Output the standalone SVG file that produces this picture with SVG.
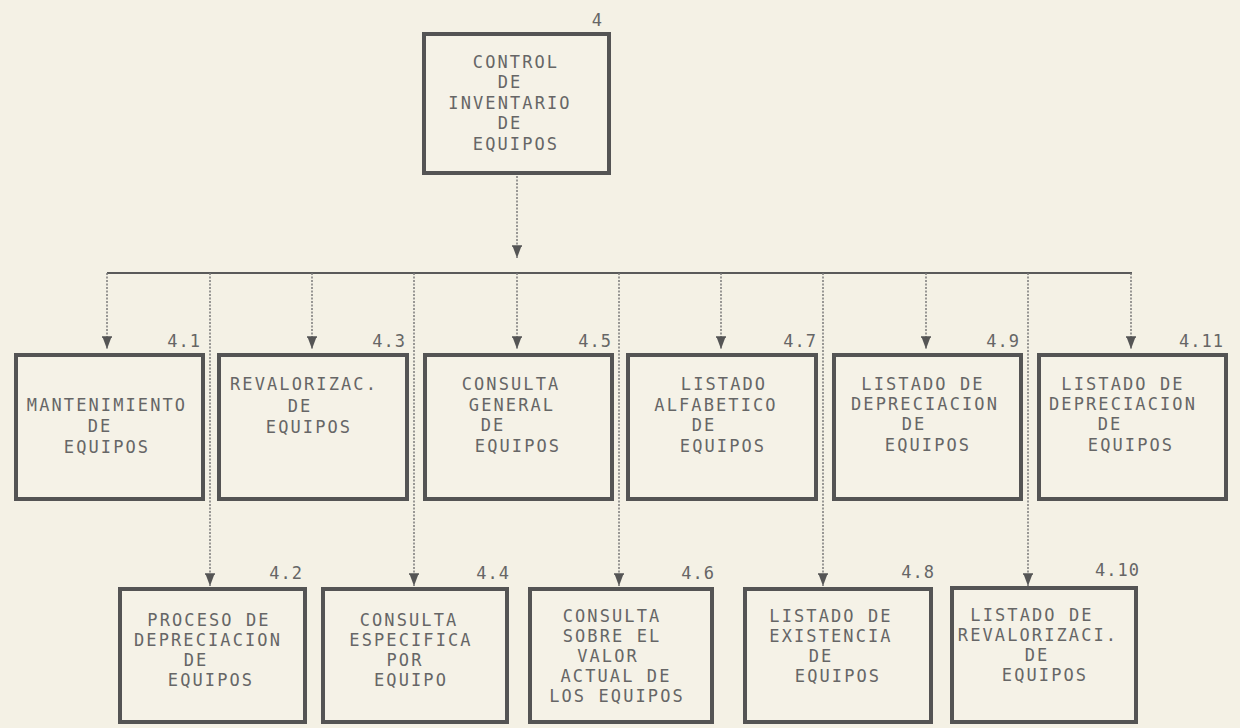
<svg xmlns="http://www.w3.org/2000/svg" width="1240" height="728" viewBox="0 0 1240 728">
<style>
.bg{fill:#f4f1e5}
.box{fill:#f5f2e7;stroke:#545454;stroke-width:4}
.t{font-family:"DejaVu Sans Mono","Liberation Mono",monospace;font-size:17px;letter-spacing:2.1px;fill:#666;text-anchor:middle}
.n{font-family:"DejaVu Sans Mono","Liberation Mono",monospace;font-size:17px;letter-spacing:1px;fill:#666;text-anchor:end}
.drop{stroke:#7a7a7a;stroke-width:1.5;stroke-dasharray:2 1.5;fill:none}
.bus{stroke:#5a5a5a;stroke-width:2;fill:none}
</style>
<defs>
<marker id="arr" markerUnits="userSpaceOnUse" markerWidth="14" markerHeight="12" viewBox="0 0 14 12" refX="13" refY="6" orient="auto">
<path d="M1,1.5 L13,6 L1,10.5 Z" fill="#555"/>
<path d="M1,1 L1,11" stroke="#555" stroke-width="1.5"/>
</marker>
</defs>
<rect class="bg" x="0" y="0" width="1240" height="728"/>

<g id="connectors">
<line class="drop" x1="517" y1="176" x2="517" y2="258" marker-end="url(#arr)"/>
<line class="bus" x1="107" y1="273" x2="1132" y2="273"/>
<line class="drop" x1="107" y1="273" x2="107" y2="349" marker-end="url(#arr)"/>
<line class="drop" x1="312" y1="273" x2="312" y2="349" marker-end="url(#arr)"/>
<line class="drop" x1="517" y1="273" x2="517" y2="349" marker-end="url(#arr)"/>
<line class="drop" x1="721" y1="273" x2="721" y2="349" marker-end="url(#arr)"/>
<line class="drop" x1="926" y1="273" x2="926" y2="349" marker-end="url(#arr)"/>
<line class="drop" x1="1131" y1="273" x2="1131" y2="349" marker-end="url(#arr)"/>
<line class="drop" x1="210" y1="273" x2="210" y2="586" marker-end="url(#arr)"/>
<line class="drop" x1="414" y1="273" x2="414" y2="586" marker-end="url(#arr)"/>
<line class="drop" x1="619" y1="273" x2="619" y2="586" marker-end="url(#arr)"/>
<line class="drop" x1="823" y1="273" x2="823" y2="586" marker-end="url(#arr)"/>
<line class="drop" x1="1028" y1="273" x2="1028" y2="586" marker-end="url(#arr)"/>
</g>

<g id="n4">
<rect class="box" x="424" y="34" width="185" height="139"/>
<text class="n" x="603" y="26">4</text>
<text class="t" x="516" y="68">CONTROL</text>
<text class="t" x="510" y="88">DE</text>
<text class="t" x="510" y="109">INVENTARIO</text>
<text class="t" x="510" y="129">DE</text>
<text class="t" x="516" y="150">EQUIPOS</text>
</g>

<g id="n4_1">
<rect class="box" x="16" y="355" width="187" height="144"/>
<text class="n" x="201" y="347">4.1</text>
<text class="t" x="107" y="411">MANTENIMIENTO</text>
<text class="t" x="100" y="432">DE</text>
<text class="t" x="107" y="453">EQUIPOS</text>
</g>

<g id="n4_3">
<rect class="box" x="219" y="355" width="188" height="144"/>
<text class="n" x="406" y="347">4.3</text>
<text class="t" x="304" y="390">REVALORIZAC.</text>
<text class="t" x="300" y="412">DE</text>
<text class="t" x="309" y="433">EQUIPOS</text>
</g>

<g id="n4_5">
<rect class="box" x="425" y="355" width="187" height="144"/>
<text class="n" x="612" y="347">4.5</text>
<text class="t" x="511" y="390">CONSULTA</text>
<text class="t" x="512" y="411">GENERAL</text>
<text class="t" x="493" y="431">DE</text>
<text class="t" x="518" y="452">EQUIPOS</text>
</g>

<g id="n4_7">
<rect class="box" x="628" y="355" width="188" height="144"/>
<text class="n" x="817" y="347">4.7</text>
<text class="t" x="724" y="390">LISTADO</text>
<text class="t" x="716" y="411">ALFABETICO</text>
<text class="t" x="704" y="431">DE</text>
<text class="t" x="723" y="452">EQUIPOS</text>
</g>

<g id="n4_9">
<rect class="box" x="834" y="355" width="187" height="144"/>
<text class="n" x="1020" y="347">4.9</text>
<text class="t" x="923" y="390">LISTADO DE</text>
<text class="t" x="925" y="410">DEPRECIACION</text>
<text class="t" x="914" y="430">DE</text>
<text class="t" x="928" y="451">EQUIPOS</text>
</g>

<g id="n4_11">
<rect class="box" x="1039" y="355" width="187" height="144"/>
<text class="n" x="1224" y="347">4.11</text>
<text class="t" x="1123" y="390">LISTADO DE</text>
<text class="t" x="1123" y="410">DEPRECIACION</text>
<text class="t" x="1110" y="430">DE</text>
<text class="t" x="1131" y="451">EQUIPOS</text>
</g>

<g id="n4_2">
<rect class="box" x="120" y="589" width="185" height="133"/>
<text class="n" x="303" y="579">4.2</text>
<text class="t" x="209" y="626">PROCESO DE</text>
<text class="t" x="208" y="646">DEPRECIACION</text>
<text class="t" x="196" y="666">DE</text>
<text class="t" x="211" y="686">EQUIPOS</text>
</g>

<g id="n4_4">
<rect class="box" x="323" y="589" width="184" height="133"/>
<text class="n" x="510" y="579">4.4</text>
<text class="t" x="409" y="626">CONSULTA</text>
<text class="t" x="411" y="646">ESPECIFICA</text>
<text class="t" x="405" y="666">POR</text>
<text class="t" x="411" y="686">EQUIPO</text>
</g>

<g id="n4_6">
<rect class="box" x="530" y="589" width="182" height="133"/>
<text class="n" x="715" y="579">4.6</text>
<text class="t" x="612" y="622">CONSULTA</text>
<text class="t" x="612" y="642">SOBRE EL</text>
<text class="t" x="608" y="662">VALOR</text>
<text class="t" x="616" y="682">ACTUAL DE</text>
<text class="t" x="617" y="702">LOS EQUIPOS</text>
</g>

<g id="n4_8">
<rect class="box" x="745" y="589" width="186" height="133"/>
<text class="n" x="935" y="578">4.8</text>
<text class="t" x="831" y="622">LISTADO DE</text>
<text class="t" x="831" y="642">EXISTENCIA</text>
<text class="t" x="821" y="662">DE</text>
<text class="t" x="838" y="682">EQUIPOS</text>
</g>

<g id="n4_10">
<rect class="box" x="952" y="588" width="184" height="134"/>
<text class="n" x="1140" y="576">4.10</text>
<text class="t" x="1032" y="621">LISTADO DE</text>
<text class="t" x="1038" y="641">REVALORIZACI.</text>
<text class="t" x="1037" y="661">DE</text>
<text class="t" x="1045" y="681">EQUIPOS</text>
</g>
</svg>
